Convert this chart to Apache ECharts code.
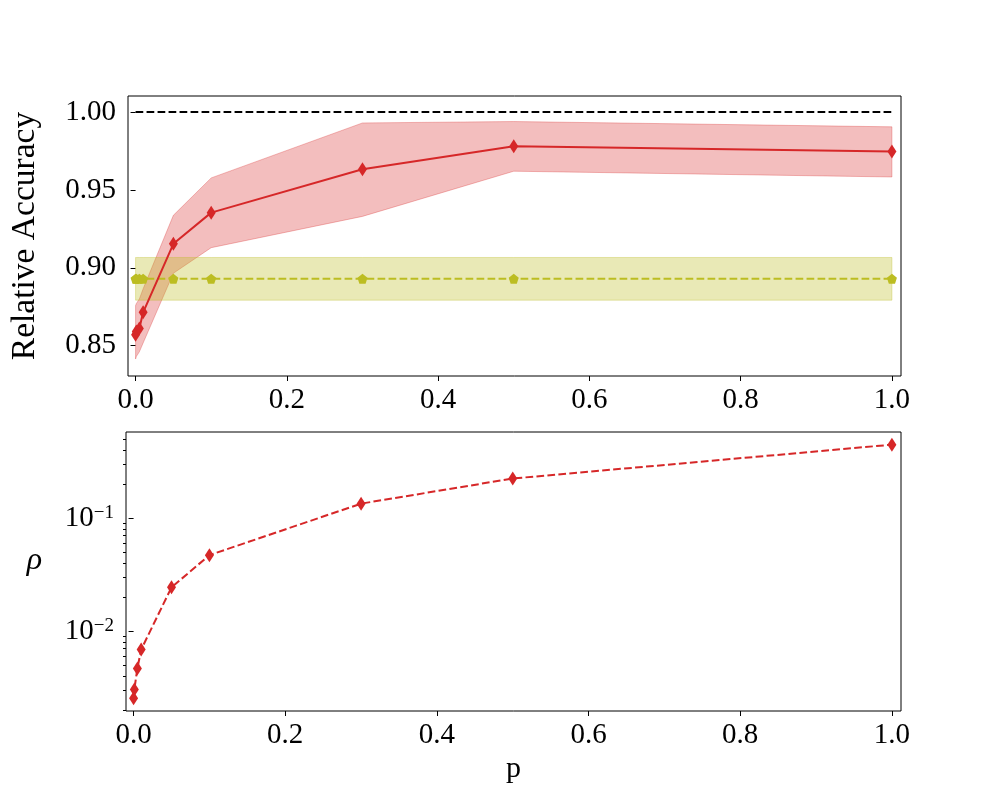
<!DOCTYPE html>
<html><head><meta charset="utf-8">
<script src="https://cdn.jsdelivr.net/npm/echarts@6/dist/echarts.min.js"></script>
<style>html,body{margin:0;padding:0;background:#fff}#c{width:1000px;height:800px}</style>
</head><body><div id="c"></div>
<script>
// ---- data ----
const pValues   = [0, 0.001, 0.005, 0.01, 0.05, 0.1, 0.3, 0.5, 1.0];
const accMean   = [0.857, 0.859, 0.861, 0.8714, 0.9154, 0.9354, 0.9633, 0.9781, 0.9747];
const accUpper  = [0.8757, 0.877, 0.880, 0.8865, 0.9337, 0.9577, 0.9930, 0.9939, 0.9905];
const accLower  = [0.8414, 0.843, 0.846, 0.8517, 0.8965, 0.9129, 0.9330, 0.9620, 0.9583];
const baseMean  = [0.8929, 0.8929, 0.8929, 0.8929, 0.8929, 0.8929, 0.8929, 0.8929, 0.8929];
const baseUpper = [0.9066, 0.9066, 0.9066, 0.9066, 0.9066, 0.9066, 0.9066, 0.9066, 0.9066];
const baseLower = [0.8792, 0.8792, 0.8792, 0.8792, 0.8792, 0.8792, 0.8792, 0.8792, 0.8792];
const refP      = [0, 1.0];
const refValue  = [1.0, 1.0];
const rhoValues = [0.00253, 0.00303, 0.00465, 0.00684, 0.0244, 0.0471, 0.1349, 0.2254, 0.450];
const xTicks    = [0, 0.2, 0.4, 0.6, 0.8, 1.0];
const accTicks  = [0.85, 0.90, 0.95, 1.00];
const rhoMajor  = [0.01, 0.1];
const rhoMinor  = [0.002,0.003,0.004,0.005,0.006,0.007,0.008,0.009,0.02,0.03,0.04,0.05,0.06,0.07,0.08,0.09,0.2,0.3,0.4,0.5];

const FONT = 'Liberation Serif';
const RED = '#d62728', OLIVE = '#bcbd22';
const pair = (xs, ys) => xs.map((x, i) => [x, ys[i]]);
const PENTAGON = 'path://M0,-1 L0.951,-0.309 L0.588,0.809 L-0.588,0.809 L-0.951,-0.309 Z';

function xAxisCfg(gridIndex) {
  return {
    type: 'value', gridIndex, min: -0.01, max: 1.012,
    axisLine: { show: false }, splitLine: { show: false },
    axisTick: { show: true, inside: false, length: 5, customValues: xTicks, lineStyle: { color: '#000', width: 1 } },
    axisLabel: { customValues: xTicks, formatter: v => v.toFixed(1), fontFamily: FONT, fontSize: 29, color: '#000', margin: 10 }
  };
}
function band(xi, yi, lower, upper, fill, edge, z) {
  return {
    type: 'custom', xAxisIndex: xi, yAxisIndex: yi, z, silent: true,
    data: [[pValues[0], lower[0]]],
    renderItem: (params, api) => {
      const pts = [];
      for (let i = 0; i < pValues.length; i++) pts.push(api.coord([pValues[i], upper[i]]));
      for (let i = pValues.length - 1; i >= 0; i--) pts.push(api.coord([pValues[i], lower[i]]));
      return { type: 'polygon', shape: { points: pts }, style: { fill, stroke: edge, lineWidth: 1 } };
    }
  };
}

const chart = echarts.init(document.getElementById('c'), null, { renderer: 'canvas' });
chart.setOption({
  animation: false,
  backgroundColor: '#fff',
  grid: [
    { left: 126, top: 96, width: 775, height: 280, show: true, borderColor: '#000', borderWidth: 1, backgroundColor: 'transparent' },
    { left: 126, top: 432, width: 775, height: 279, show: true, borderColor: '#000', borderWidth: 1, backgroundColor: 'transparent' }
  ],
  xAxis: [
    xAxisCfg(0),
    Object.assign(xAxisCfg(1), {
      name: 'p', nameLocation: 'middle', nameGap: 43,
      nameTextStyle: { fontFamily: FONT, fontSize: 30, color: '#000' }
    })
  ],
  yAxis: [
    {
      type: 'value', gridIndex: 0, min: 0.8305, max: 1.0103,
      axisLine: { show: false }, splitLine: { show: false },
      axisTick: { show: true, inside: false, length: 5, customValues: accTicks, lineStyle: { color: '#000', width: 1 } },
      axisLabel: { customValues: accTicks, formatter: v => v.toFixed(2), fontFamily: FONT, fontSize: 29, color: '#000', margin: 12 },
      name: 'Relative Accuracy', nameLocation: 'middle', nameRotate: 90, nameGap: 86,
      nameTextStyle: { fontFamily: FONT, fontSize: 33.5, color: '#000' }
    },
    {
      type: 'log', logBase: 10, gridIndex: 1, min: 0.00195, max: 0.583,
      axisLine: { show: false }, splitLine: { show: false }, minorTick: { show: false },
      axisTick: { show: true, inside: false, length: 5, customValues: rhoMajor, lineStyle: { color: '#000', width: 1 } },
      axisLabel: {
        customValues: rhoMajor, margin: 12,
        formatter: v => '{b|10}{s|\u2212' + Math.round(-Math.log10(v)) + '}',
        rich: {
          b: { fontFamily: FONT, fontSize: 29, color: '#000' },
          s: { fontFamily: FONT, fontSize: 19, color: '#000', verticalAlign: 'top' }
        }
      },
      name: '\u03c1\n', nameLocation: 'middle', nameRotate: 0, nameGap: 84,
      nameTextStyle: { fontFamily: FONT, fontSize: 32, fontStyle: 'italic', color: '#000', lineHeight: 22 }
    },
    {
      type: 'log', logBase: 10, gridIndex: 1, min: 0.00195, max: 0.583, position: 'left', offset: 0,
      axisLine: { show: false }, splitLine: { show: false }, minorTick: { show: false },
      axisTick: { show: true, inside: false, length: 3, customValues: rhoMinor, lineStyle: { color: '#000', width: 1 } },
      axisLabel: { show: false, customValues: rhoMinor }
    }
  ],
  series: [
    band(0, 0, accLower, accUpper, 'rgba(214,39,40,0.3)', 'rgba(214,39,40,0.3)', 1),
    band(0, 0, baseLower, baseUpper, 'rgba(188,189,34,0.33)', 'rgba(188,189,34,0.33)', 2),
    {
      type: 'line', xAxisIndex: 0, yAxisIndex: 0, z: 3, data: pair(pValues, baseMean),
      symbol: PENTAGON, symbolSize: 10, showSymbol: true,
      itemStyle: { color: OLIVE }, lineStyle: { color: OLIVE, width: 2, type: [7.7, 3.3] }
    },
    {
      type: 'line', xAxisIndex: 0, yAxisIndex: 0, z: 4, data: pair(pValues, accMean),
      symbol: 'diamond', symbolSize: [9, 14], showSymbol: true,
      itemStyle: { color: RED }, lineStyle: { color: RED, width: 2 }
    },
    {
      type: 'line', xAxisIndex: 0, yAxisIndex: 0, z: 5, data: pair(refP, refValue),
      symbol: 'none', lineStyle: { color: '#000', width: 2, type: [7.7, 3.3] }
    },
    {
      type: 'line', xAxisIndex: 1, yAxisIndex: 1, z: 4, data: pair(pValues, rhoValues),
      symbol: 'diamond', symbolSize: [9, 14], showSymbol: true,
      itemStyle: { color: RED }, lineStyle: { color: RED, width: 2, type: [7.7, 3.3] }
    }
  ]
});
</script>
</body></html>
